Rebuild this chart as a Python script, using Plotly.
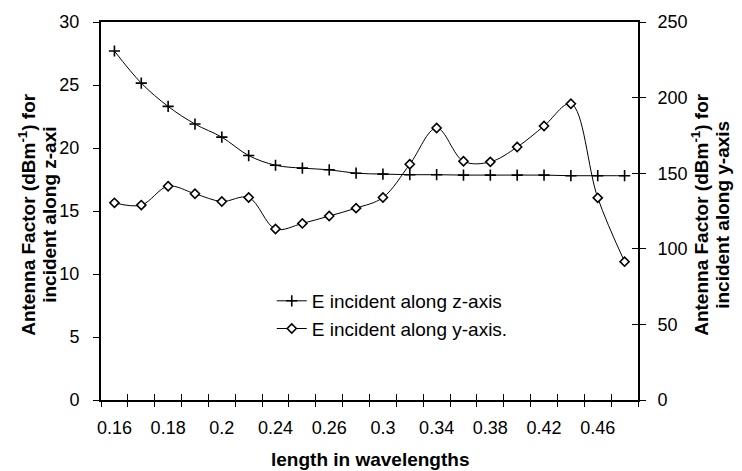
import plotly.graph_objects as go

# ---- data ----
categories = ["0.16", "0.17", "0.18", "0.19", "0.2", "0.22", "0.24", "0.25", "0.26", "0.28",
              "0.3", "0.32", "0.34", "0.36", "0.38", "0.4", "0.42", "0.44", "0.46", "0.48"]
z_axis_af = [27.7, 25.15, 23.3, 21.9, 20.86, 19.4, 18.63, 18.4, 18.27, 18.0,
             17.93, 17.88, 17.88, 17.85, 17.85, 17.85, 17.85, 17.8, 17.8, 17.8]
y_axis_af = [130.4, 128.9, 141.4, 136.4, 131.3, 133.9, 113.1, 116.8, 121.7, 126.9,
             133.9, 155.9, 179.9, 157.9, 157.5, 167.3, 181.2, 195.9, 133.7, 91.5]
shown_labels = ["0.16", "0.18", "0.2", "0.24", "0.26", "0.3", "0.34", "0.38", "0.42", "0.46"]
left_ticks = [0, 5, 10, 15, 20, 25, 30]
right_ticks = [0, 50, 100, 150, 200, 250]

FONT = "Liberation Sans, Arial, Helvetica, sans-serif"
BLACK = "#000000"

fig = go.Figure()
fig.add_trace(go.Scatter(
    x=categories, y=z_axis_af, name="E incident along z-axis",
    mode="lines+markers", line=dict(color=BLACK, width=1, shape="spline", smoothing=1),
    marker=dict(symbol="cross-thin", size=8, line=dict(color=BLACK, width=1.6)),
    xaxis="x", yaxis="y"))
fig.add_trace(go.Scatter(
    x=categories, y=y_axis_af, name="E incident along y-axis.",
    mode="lines+markers", line=dict(color=BLACK, width=1, shape="spline", smoothing=1),
    marker=dict(symbol="diamond", size=7, color="white", line=dict(color=BLACK, width=1.6)),
    xaxis="x", yaxis="y2"))
# invisible helpers so that the overlay axes (the two halves of the cross ticks) get drawn
for xa, ya in (("x2", "y"), ("x3", "y"), ("x", "y3")):
    fig.add_trace(go.Scatter(x=categories, y=[None] * len(categories), xaxis=xa, yaxis=ya,
                             showlegend=False, hoverinfo="skip", mode="lines"))

tickfont = dict(family=FONT, size=18, color=BLACK)
cat_range = [-0.5, len(categories) - 0.5]
fig.update_layout(
    width=742, height=471,
    margin=dict(l=101, r=104, t=15, b=71),
    paper_bgcolor="white", plot_bgcolor="white",
    font=dict(family=FONT, color=BLACK),
    showlegend=True,
    legend=dict(x=0.318, y=0.225, xanchor="left", yanchor="middle",
                font=dict(family=FONT, size=19, color=BLACK),
                bgcolor="rgba(0,0,0,0)", borderwidth=0, tracegroupgap=0),
    xaxis=dict(type="category", range=cat_range, categoryorder="array", categoryarray=categories,
               tickmode="array", tickvals=shown_labels, ticktext=shown_labels, tickangle=0,
               ticks="", showline=True, linecolor=BLACK, linewidth=2, mirror=True,
               showgrid=False, zeroline=False, tickfont=tickfont, ticklabelstandoff=10),
    xaxis2=dict(type="category", overlaying="x", matches="x", anchor="y", side="bottom",
                categoryorder="array", categoryarray=categories,
                tickmode="array", tickvals=categories, tickson="boundaries",
                ticks="outside", ticklen=6, tickwidth=1, tickcolor=BLACK,
                showline=False, showgrid=False, zeroline=False, showticklabels=False),
    xaxis3=dict(type="category", overlaying="x", matches="x", anchor="y", side="bottom",
                categoryorder="array", categoryarray=categories,
                tickmode="array", tickvals=categories, tickson="boundaries",
                ticks="inside", ticklen=6, tickwidth=1, tickcolor=BLACK,
                showline=False, showgrid=False, zeroline=False, showticklabels=False),
    yaxis=dict(range=[0, 30], tickmode="array", tickvals=left_ticks,
               ticks="outside", ticklen=6, tickwidth=1, tickcolor=BLACK,
               showline=True, linecolor=BLACK, linewidth=2,
               showgrid=False, zeroline=False, tickfont=tickfont, ticklabelstandoff=10),
    yaxis2=dict(range=[0, 250], overlaying="y", side="right", anchor="x",
                tickmode="array", tickvals=right_ticks,
                ticks="outside", ticklen=6, tickwidth=1, tickcolor=BLACK,
                showline=True, linecolor=BLACK, linewidth=2,
                showgrid=False, zeroline=False, tickfont=tickfont, ticklabelstandoff=8),
    yaxis3=dict(range=[0, 250], overlaying="y", side="right", anchor="x",
                tickmode="array", tickvals=right_ticks,
                ticks="inside", ticklen=6, tickwidth=1, tickcolor=BLACK,
                showline=False, showgrid=False, zeroline=False, showticklabels=False),
)

title_font = dict(family=FONT, size=19, color=BLACK)
annots = [
    dict(text="<b>length in wavelengths</b>", x=0.5, y=0, xref="paper", yref="paper",
         xanchor="center", yanchor="middle", yshift=-59, showarrow=False, font=title_font),
    dict(text="<b>Antenna Factor (dBm<sup>-1</sup>) for</b>", x=0, y=0.49, xref="paper", yref="paper",
         xanchor="center", yanchor="middle", xshift=-74, textangle=-90, showarrow=False, font=title_font),
    dict(text="<b>incident along z-axi</b>", x=0, y=0.49, xref="paper", yref="paper",
         xanchor="center", yanchor="middle", xshift=-51, textangle=-90, showarrow=False, font=title_font),
    dict(text="<b>Antenna Factor (dBm<sup>-1</sup>) for</b>", x=1, y=0.49, xref="paper", yref="paper",
         xanchor="center", yanchor="middle", xshift=62, textangle=-90, showarrow=False, font=title_font),
    dict(text="<b>incident along y-axis</b>", x=1, y=0.49, xref="paper", yref="paper",
         xanchor="center", yanchor="middle", xshift=85, textangle=-90, showarrow=False, font=title_font),
]
fig.update_layout(annotations=annots)

fig.write_html("out.html")
